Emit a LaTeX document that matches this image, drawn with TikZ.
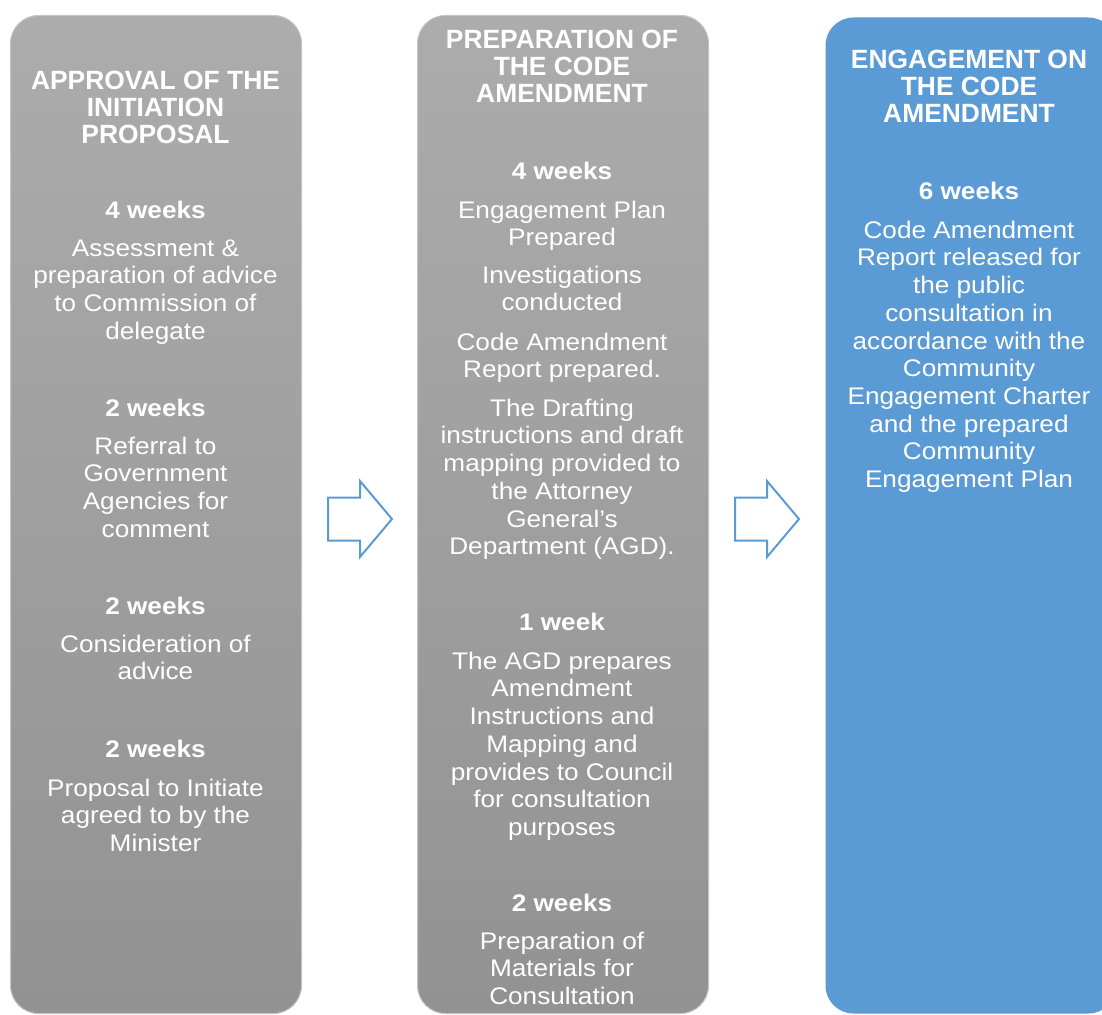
\documentclass[tikz,border=0pt]{standalone}
\usepackage{fontspec}
\setmainfont{Liberation Sans}
\newfontfamily\bodyfont{Liberation Sans}[FakeStretch=1.09]
\definecolor{gtop}{RGB}{172,172,172}
\definecolor{gbot}{RGB}{146,146,146}
\definecolor{gedge}{RGB}{196,196,196}
\definecolor{cblue}{RGB}{91,155,213}
\newcommand\sx{\rule{0pt}{20pt}}
\begin{document}
\begin{tikzpicture}[x=1pt,y=-1pt,
  phase/.style={rectangle, rounded corners=28pt, line width=1pt, inner sep=0pt, anchor=north west, minimum width=291pt},
  grayphase/.style={phase, draw=gedge, top color=gtop, bottom color=gbot},
  bluephase/.style={phase, fill=cblue},
  headtxt/.style={anchor=north, inner sep=0pt, align=center, text=white, font=\fontsize{26.4}{27}\selectfont\bfseries},
  weektxt/.style={anchor=north, inner sep=0pt, align=center, text=white, font=\bodyfont\fontsize{24}{27.7}\selectfont\bfseries},
  bodytxt/.style={anchor=north, inner sep=0pt, align=center, text=white, font=\bodyfont\fontsize{24}{27.7}\selectfont},
  blockarrow/.style={draw=cblue, line width=2pt, fill=white, line join=miter}
]
\useasboundingbox (0,0) rectangle (1102,1014);
\fill[white] (0,0) rectangle (1102,1014);

% columns
\node[grayphase, minimum height=998pt] (col1) at (10,15) {};
\node[grayphase, minimum height=998pt] (col2) at (417,15) {};
\node[bluephase, minimum height=996pt] (col3) at (825,17) {};

% arrows
\coordinate (a1) at (328,497.5);
\coordinate (a2) at (735,497.5);
\draw[blockarrow] (a1) -- ++(32,0) -- ++(0,-16.5) -- ++(32,38) -- ++(-32,38) -- ++(0,-16.5) -- ++(-32,0) -- cycle;
\draw[blockarrow] (a2) -- ++(32,0) -- ++(0,-16.5) -- ++(32,38) -- ++(-32,38) -- ++(0,-16.5) -- ++(-32,0) -- cycle;

% left column
\node[headtxt] (h1) at (155.5,69) {\sx APPROVAL OF THE\\INITIATION\\PROPOSAL};
\node[weektxt] (w11) at (155.5,198) {\sx 4 weeks};
\node[bodytxt] (b11) at (155.5,236) {\sx Assessment \&\\preparation of advice\\to Commission of\\delegate};
\node[weektxt] (w12) at (155.5,396) {\sx 2 weeks};
\node[bodytxt] (b12) at (155.5,434) {\sx Referral to\\Government\\Agencies for\\comment};
\node[weektxt] (w13) at (155.5,594) {\sx 2 weeks};
\node[bodytxt] (b13) at (155.5,632) {\sx Consideration of\\advice};
\node[weektxt] (w14) at (155.5,737) {\sx 2 weeks};
\node[bodytxt] (b14) at (155.5,776) {\sx Proposal to Initiate\\agreed to by the\\Minister};

% middle column
\node[headtxt] (h2) at (562,28) {\sx PREPARATION OF\\THE CODE\\AMENDMENT};
\node[weektxt] (w21) at (562,159) {\sx 4 weeks};
\node[bodytxt] (b21) at (562,198) {\sx Engagement Plan\\Prepared};
\node[bodytxt] (b22) at (562,263) {\sx Investigations\\conducted};
\node[bodytxt] (b23) at (562,330) {\sx Code Amendment\\Report prepared.};
\node[bodytxt] (b24) at (562,396) {\sx The Drafting\\instructions and draft\\mapping provided to\\the Attorney\\General’s\\Department (AGD).};
\node[weektxt] (w22) at (562,610) {\sx 1 week};
\node[bodytxt] (b25) at (562,649) {\sx The AGD prepares\\Amendment\\Instructions and\\Mapping and\\provides to Council\\for consultation\\purposes};
\node[weektxt] (w23) at (562,891) {\sx 2 weeks};
\node[bodytxt] (b26) at (562,929) {\sx Preparation of\\Materials for\\Consultation};

% right column
\node[headtxt] (h3) at (969,48) {\sx ENGAGEMENT ON\\THE CODE\\AMENDMENT};
\node[weektxt] (w31) at (969,179) {\sx 6 weeks};
\node[bodytxt] (b31) at (969,218) {\sx Code Amendment\\Report released for\\the public\\consultation in\\accordance with the\\Community\\Engagement Charter\\and the prepared\\Community\\Engagement Plan};
\end{tikzpicture}
\end{document}
